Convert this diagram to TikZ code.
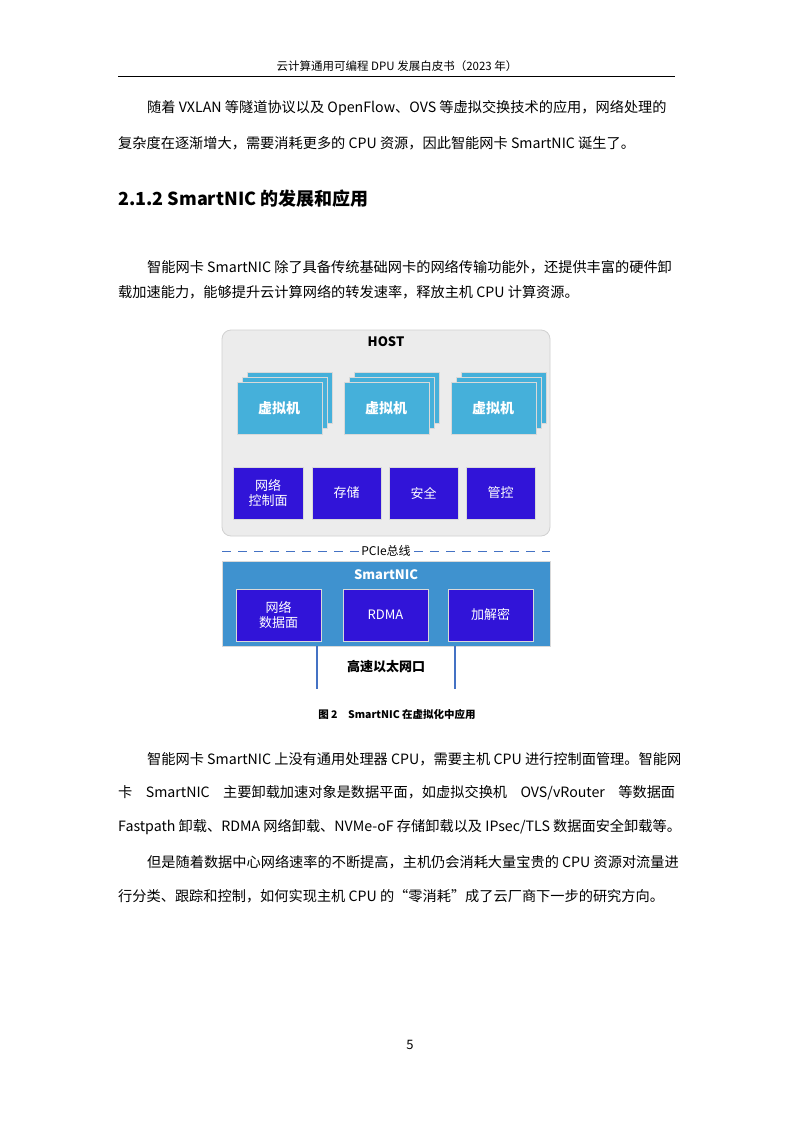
\documentclass[tikz,border=0pt]{standalone}
\usepackage{fontspec}
\setmainfont{Noto Sans CJK SC}
\definecolor{hostgray}{HTML}{ECECEC}
\definecolor{vmblue}{HTML}{45B0DA}
\definecolor{funcblue}{HTML}{3114D8}
\definecolor{nicblue}{HTML}{3F92CF}
\definecolor{busblue}{HTML}{4472C4}
\newcommand{\bodyfont}{\fontsize{14.2pt}{17pt}\selectfont}
\newcommand{\fullline}[1]{\makebox[557pt][s]{#1}}
\tikzset{
  bodytext/.style={anchor=west,inner sep=0pt,font=\bodyfont},
  vmbox/.style={fill=vmblue,draw=black!15,line width=0.8pt},
  funcbox/.style={fill=funcblue,draw=black!15,line width=0.8pt,text=white,align=center,font=\fontsize{13pt}{15pt}\selectfont,inner sep=0pt},
}
\begin{document}
\begin{tikzpicture}[x=1pt,y=-1pt]
\useasboundingbox (0,0) rectangle (793,1122);
\fill[white] (0,0) rectangle (793,1122);
% header
\path (397,66) node (head) {\fontsize{11.5pt}{13pt}\selectfont 云计算通用可编程 DPU 发展白皮书（2023 年）};
\draw[line width=0.6pt] (118,76) -- (675,76);
% text above the figure
\path (147,108) node[bodytext] (p1a) {随着 VXLAN 等隧道协议以及 OpenFlow、OVS 等虚拟交换技术的应用，网络处理的};
\path (118,143) node[bodytext] (p1b) {复杂度在逐渐增大，需要消耗更多的 CPU 资源，因此智能网卡 SmartNIC 诞生了。};
\path (118,199) node[anchor=west,inner sep=0pt] (sec) {\fontsize{18pt}{20pt}\selectfont\bfseries 2.1.2 SmartNIC 的发展和应用};
\path (147,267) node[bodytext] (p2a) {智能网卡 SmartNIC 除了具备传统基础网卡的网络传输功能外，还提供丰富的硬件卸};
\path (118,292) node[bodytext] (p2b) {载加速能力，能够提升云计算网络的转发速率，释放主机 CPU 计算资源。};
% host
\filldraw[fill=hostgray,draw=black!18,line width=0.8pt,rounded corners=9pt] (222,330) rectangle (550,536);
\path (386,342) node (host) {\fontsize{13pt}{15pt}\selectfont\bfseries HOST};
\foreach \x/\n in {237/vma,344/vmb,451/vmc} {
  \draw[vmbox] (\x+10,372) rectangle (\x+95,423);
  \draw[vmbox] (\x+5,377) rectangle (\x+90,428);
  \draw[vmbox] (\x,382) rectangle (\x+85,434);
  \path (\x+42,408) node[text=white] (\n) {\fontsize{14pt}{16pt}\selectfont\bfseries 虚拟机};
}
\path (268,493) node[funcbox,minimum width=70pt,minimum height=52pt] (ctrl) {网络\\控制面};
\path (346.5,493) node[funcbox,minimum width=69pt,minimum height=52pt] (stor) {存储};
\path (423.5,493) node[funcbox,minimum width=69pt,minimum height=52pt] (sec) {安全};
\path (500.5,493) node[funcbox,minimum width=69pt,minimum height=52pt] (mgmt) {管控};
% bus
\draw[busblue,dash pattern=on 9pt off 7pt,line width=0.8pt] (222,551) -- (550,551);
\path (386,551) node[fill=white,inner sep=1pt] (pcie) {\fontsize{12pt}{14pt}\selectfont PCIe总线};
% smartnic
\filldraw[fill=nicblue,draw=black!15,line width=0.8pt] (222,561) rectangle (550,646);
\path (386,575) node[text=white] (nic) {\fontsize{13pt}{15pt}\selectfont\bfseries SmartNIC};
\path (278.5,615) node[funcbox,minimum width=85pt,minimum height=52pt] (dp) {网络\\数据面};
\path (385.5,615) node[funcbox,minimum width=85pt,minimum height=52pt] (rdma) {RDMA};
\path (490.5,615) node[funcbox,minimum width=85pt,minimum height=52pt] (crypt) {加解密};
\coordinate (porta) at (317,689);
\coordinate (portb) at (455,689);
\draw[busblue,line width=2.5pt] (317,646) -- (porta);
\draw[busblue,line width=2.5pt] (455,646) -- (portb);
\path (386,667) node (eth) {\fontsize{13pt}{15pt}\selectfont\bfseries 高速以太网口};
\path (397,714) node (cap) {\fontsize{10.5pt}{12pt}\selectfont\bfseries 图 2\quad SmartNIC 在虚拟化中应用};
% text below the figure
\path (147,759) node[bodytext] (p3a) {智能网卡 SmartNIC 上没有通用处理器 CPU，需要主机 CPU 进行控制面管理。智能网};
\path (118,793) node[bodytext] (p3b) {\fullline{卡 SmartNIC 主要卸载加速对象是数据平面，如虚拟交换机 OVS/vRouter 等数据面}};
\path (118,827) node[bodytext] (p3c) {Fastpath 卸载、RDMA 网络卸载、NVMe-oF 存储卸载以及 IPsec/TLS 数据面安全卸载等。};
\path (147,862) node[bodytext] (p4a) {但是随着数据中心网络速率的不断提高，主机仍会消耗大量宝贵的 CPU 资源对流量进};
\path (118,896) node[bodytext] (p4b) {行分类、跟踪和控制，如何实现主机 CPU 的“零消耗”成了云厂商下一步的研究方向。};
\path (410,1045) node (page) {\fontsize{13pt}{15pt}\selectfont 5};
\end{tikzpicture}
\end{document}
